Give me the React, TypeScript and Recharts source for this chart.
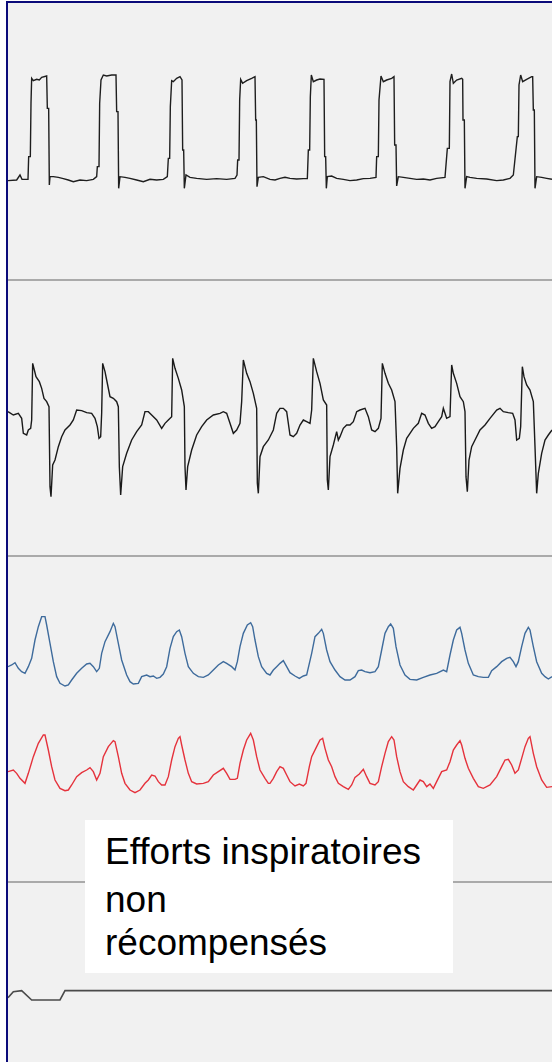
import { LineChart, Line, XAxis, YAxis } from 'recharts';

// time in samples (3 samples per px), amplitudes in arbitrary units
const T_DOMAIN: [number, number] = [24, 1656];

const pulseTrace: [number, number][] = [
  [24, 138], [50, 140], [60, 155], [66, 142], [84, 142], [86, 210], [91, 210], [93, 370], [95, 445],
  [100, 438], [110, 442], [118, 440], [125, 448], [140, 452], [142, 355], [146, 355], [148, 125],
  [150, 150], [160, 150], [175, 148], [190, 144], [205, 140], [220, 135], [240, 140], [260, 138],
  [280, 142], [290, 150], [292, 180], [297, 180], [299, 370], [303, 440], [310, 455], [320, 452],
  [335, 455], [348, 455], [350, 345], [354, 345], [356, 115], [360, 150], [375, 148], [390, 145],
  [410, 140], [430, 135], [450, 142], [470, 140], [490, 142], [502, 150], [505, 205], [509, 205],
  [511, 360], [515, 438], [520, 435], [530, 445], [540, 450], [546, 440], [548, 230], [551, 230],
  [553, 115], [558, 155], [570, 148], [590, 145], [620, 142], [650, 144], [680, 142], [705, 145],
  [711, 155], [713, 200], [717, 200], [719, 380], [722, 442], [728, 430], [740, 438], [755, 445],
  [765, 450], [767, 320], [769, 320], [771, 120], [775, 148], [790, 150], [810, 142], [825, 140],
  [840, 145], [855, 148], [870, 145], [890, 143], [910, 144], [922, 144], [925, 230], [929, 230],
  [931, 390], [934, 455], [940, 435], [950, 440], [960, 443], [972, 442], [974, 210], [977, 210],
  [979, 115], [982, 150], [995, 152], [1010, 145], [1030, 142], [1050, 138], [1070, 140], [1090, 144],
  [1110, 145], [1128, 148], [1130, 210], [1135, 210], [1137, 380], [1143, 452], [1150, 435],
  [1160, 440], [1175, 445], [1182, 450], [1184, 245], [1188, 245], [1190, 122], [1195, 150],
  [1210, 148], [1230, 145], [1250, 142], [1270, 143], [1290, 140], [1310, 145], [1335, 148],
  [1342, 235], [1348, 235], [1350, 435], [1355, 458], [1360, 430], [1370, 440], [1385, 445],
  [1388, 442], [1389, 320], [1393, 320], [1395, 115], [1400, 150], [1410, 148], [1430, 145],
  [1460, 143], [1490, 138], [1510, 140], [1530, 145], [1540, 155], [1552, 270], [1555, 270],
  [1557, 425], [1562, 455], [1568, 435], [1580, 442], [1595, 450], [1598, 450], [1600, 350],
  [1603, 350], [1605, 115], [1610, 150], [1625, 148], [1640, 145], [1656, 142],
];

const pressureTrace: [number, number][] = [
  [24, 285], [40, 275], [55, 280], [65, 265], [70, 220], [80, 215], [85, 230], [92, 235], [95, 260],
  [98, 430], [103, 410], [108, 390], [118, 375], [125, 355], [132, 325], [140, 315], [147, 300],
  [150, 60], [153, 30], [158, 125], [165, 140], [175, 180], [185, 210], [195, 230], [210, 245],
  [220, 260], [230, 290], [245, 288], [260, 282], [275, 280], [285, 265], [292, 240], [297, 205],
  [302, 210], [305, 280], [308, 430], [315, 405], [320, 380], [330, 330], [340, 325], [350, 315],
  [355, 300], [358, 120], [362, 35], [368, 120], [380, 160], [395, 200], [410, 225], [425, 245],
  [435, 285], [445, 285], [455, 275], [470, 260], [485, 235], [495, 250], [505, 260], [515, 270],
  [518, 445], [525, 415], [535, 385], [545, 350], [553, 300], [555, 120], [558, 50], [563, 120],
  [575, 170], [590, 215], [605, 240], [620, 260], [640, 275], [660, 280], [670, 285], [680, 280],
  [690, 250], [700, 220], [710, 230], [720, 250], [725, 315], [730, 440], [740, 400], [750, 375],
  [760, 340], [770, 295], [772, 70], [775, 40], [780, 150], [790, 180], [805, 200], [820, 230],
  [830, 280], [840, 295], [850, 295], [860, 285], [870, 215], [880, 210], [890, 220], [900, 245],
  [910, 260], [920, 255], [930, 250], [935, 290], [940, 445], [950, 405], [960, 370], [970, 320],
  [980, 305], [982, 80], [985, 50], [990, 150], [1000, 185], [1010, 225], [1015, 200], [1020, 210],
  [1030, 235], [1040, 245], [1050, 245], [1060, 255], [1070, 285], [1080, 290], [1095, 295],
  [1105, 270], [1115, 230], [1125, 225], [1135, 235], [1143, 265], [1147, 430], [1155, 400],
  [1165, 370], [1175, 350], [1185, 315], [1190, 180], [1193, 40], [1200, 115], [1210, 170],
  [1220, 205], [1230, 220], [1240, 235], [1255, 250], [1265, 280], [1275, 275], [1285, 250],
  [1295, 235], [1305, 240], [1315, 255], [1325, 270], [1330, 295], [1340, 265], [1350, 270],
  [1355, 425], [1360, 400], [1370, 370], [1380, 330], [1390, 315], [1395, 285], [1398, 90],
  [1402, 45], [1407, 140], [1415, 180], [1425, 200], [1440, 230], [1455, 245], [1470, 265],
  [1490, 290], [1500, 295], [1510, 285], [1525, 282], [1538, 280], [1545, 260], [1550, 200],
  [1558, 205], [1562, 240], [1567, 420], [1572, 390], [1580, 365], [1590, 350], [1600, 315],
  [1605, 180], [1610, 40], [1615, 100], [1625, 160], [1635, 200], [1645, 215], [1656, 230],
];

const blueTrace: [number, number][] = [
  [24, 300], [35, 305], [45, 312], [55, 295], [65, 285], [75, 280], [85, 300], [95, 325], [105, 380],
  [115, 420], [125, 450], [135, 450], [140, 425], [150, 370], [160, 315], [170, 270], [180, 250],
  [195, 242], [205, 245], [215, 260], [230, 280], [245, 295], [260, 308], [270, 310], [280, 300],
  [290, 285], [298, 295], [305, 340], [315, 375], [330, 405], [340, 430], [345, 420], [355, 370],
  [365, 320], [380, 275], [390, 255], [400, 248], [415, 250], [425, 270], [440, 275], [450, 270],
  [460, 272], [470, 265], [480, 268], [490, 278], [500, 300], [510, 355], [520, 390], [530, 405],
  [538, 410], [545, 390], [555, 340], [565, 300], [580, 280], [595, 270], [610, 268], [625, 275],
  [640, 290], [655, 305], [670, 315], [680, 310], [695, 300], [705, 290], [712, 315], [720, 360],
  [730, 400], [742, 425], [752, 432], [758, 420], [765, 380], [775, 330], [785, 300], [800, 280],
  [810, 275], [820, 290], [830, 300], [840, 310], [850, 318], [860, 300], [870, 282], [885, 272],
  [898, 265], [910, 272], [920, 275], [935, 340], [945, 390], [955, 400], [965, 412], [970, 400],
  [980, 350], [990, 315], [1005, 290], [1020, 270], [1035, 260], [1050, 260], [1065, 270],
  [1075, 288], [1085, 290], [1095, 285], [1110, 282], [1125, 285], [1135, 300], [1145, 350],
  [1155, 400], [1165, 420], [1172, 428], [1180, 415], [1188, 360], [1200, 305], [1215, 275],
  [1230, 262], [1250, 260], [1270, 268], [1290, 275], [1310, 280], [1330, 290], [1340, 285],
  [1350, 335], [1360, 380], [1370, 410], [1380, 418], [1385, 400], [1395, 350], [1405, 310],
  [1420, 275], [1435, 270], [1450, 268], [1465, 268], [1475, 288], [1490, 300], [1505, 315],
  [1520, 325], [1530, 328], [1540, 315], [1548, 300], [1555, 315], [1565, 360], [1575, 400],
  [1585, 418], [1590, 410], [1600, 360], [1610, 315], [1625, 280], [1635, 270], [1645, 263],
  [1656, 270],
];

const redTrace: [number, number][] = [
  [24, 345], [40, 350], [50, 340], [60, 325], [75, 310], [85, 340], [100, 390], [115, 430], [130, 455],
  [135, 455], [145, 410], [155, 360], [165, 320], [180, 295], [195, 288], [205, 290], [215, 305],
  [230, 330], [245, 342], [260, 350], [270, 357], [280, 345], [290, 320], [300, 340], [310, 390],
  [325, 420], [340, 438], [345, 435], [355, 390], [365, 340], [375, 310], [390, 290], [405, 282],
  [420, 290], [435, 310], [445, 320], [455, 335], [465, 332], [475, 315], [485, 305], [495, 305],
  [505, 330], [515, 380], [525, 420], [535, 445], [540, 450], [545, 425], [555, 380], [565, 340],
  [575, 315], [590, 308], [610, 310], [625, 315], [640, 335], [655, 345], [670, 355], [680, 340],
  [690, 322], [705, 322], [712, 325], [720, 370], [730, 410], [740, 440], [752, 460], [760, 440],
  [770, 390], [780, 350], [795, 325], [805, 310], [810, 310], [820, 325], [830, 345], [840, 360],
  [850, 355], [860, 335], [870, 315], [885, 302], [898, 308], [910, 302], [918, 310], [928, 360],
  [935, 390], [950, 420], [960, 440], [968, 445], [975, 415], [985, 380], [995, 360], [1005, 330],
  [1015, 310], [1030, 300], [1045, 292], [1055, 305], [1065, 328], [1078, 338], [1090, 352],
  [1100, 330], [1110, 310], [1125, 305], [1135, 315], [1145, 360], [1155, 400], [1165, 435],
  [1175, 450], [1182, 440], [1190, 390], [1200, 345], [1210, 315], [1225, 300], [1240, 290],
  [1250, 305], [1260, 320], [1270, 315], [1280, 300], [1290, 308], [1300, 295], [1310, 315],
  [1325, 345], [1340, 350], [1350, 375], [1360, 410], [1370, 425], [1380, 438], [1385, 425],
  [1395, 385], [1405, 355], [1420, 325], [1435, 300], [1450, 295], [1470, 305], [1490, 330],
  [1505, 360], [1515, 380], [1525, 382], [1535, 365], [1545, 340], [1555, 350], [1565, 385],
  [1575, 420], [1585, 445], [1590, 450], [1600, 400], [1610, 360], [1625, 320], [1640, 298],
  [1656, 300],
];

const effortTrace: [number, number][] = [
  [24, 387], [40, 405], [65, 408], [95, 380], [180, 380], [195, 408], [1656, 408],
];

const LABEL_LINES = ['Efforts inspiratoires', 'non', 'récompensés'];

const toRows = (pts: [number, number][]) => pts.map(([t, v]) => ({ t, v }));

interface TraceProps {
  top: number;
  height: number;
  domain: [number, number];
  points: [number, number][];
  color: string;
  width?: number;
}

function Trace({ top, height, domain, points, color, width = 1.4 }: TraceProps) {
  return (
    <div style={{ position: 'absolute', left: 8, top }}>
      <LineChart width={544} height={height} margin={{ top: 0, right: 0, bottom: 0, left: 0 }}>
        <XAxis dataKey="t" type="number" domain={T_DOMAIN} hide allowDataOverflow />
        <YAxis type="number" domain={domain} hide allowDataOverflow />
        <Line
          data={toRows(points)}
          dataKey="v"
          type="linear"
          stroke={color}
          strokeWidth={width}
          dot={false}
          activeDot={false}
          isAnimationActive={false}
        />
      </LineChart>
    </div>
  );
}

const sep = (top: number) => (
  <div style={{ position: 'absolute', left: 8, top, width: 544, height: 2, background: '#aaaaaa' }} />
);

export default function App() {
  return (
    <div style={{ position: 'absolute', left: 0, top: 0, width: 552, height: 1062, background: '#ffffff', overflow: 'hidden' }}>
      <div
        style={{
          position: 'absolute',
          left: 6,
          top: 1,
          width: 546,
          height: 1061,
          boxSizing: 'border-box',
          borderLeft: '2px solid #0b0b7a',
          borderTop: '2px solid #0b0b7a',
          background: '#f1f1f1',
        }}
      />
      {sep(279)}
      {sep(555)}
      {sep(881)}
      <Trace top={60} height={140} domain={[80, 500]} points={pulseTrace} color="#1e1e1e" />
      <Trace top={340} height={170} domain={[-10, 500]} points={pressureTrace} color="#1a1a1a" />
      <Trace top={600} height={100} domain={[200, 500]} points={blueTrace} color="#3e6b9c" />
      <Trace top={720} height={80} domain={[260, 500]} points={redTrace} color="#e5323c" />
      <Trace top={960} height={102} domain={[194, 500]} points={effortTrace} color="#4a4a4a" width={1.6} />
      <div style={{ position: 'absolute', left: 85, top: 820, width: 368, height: 153, background: '#ffffff' }}>
        {LABEL_LINES.map((line, i) => (
          <div
            key={line}
            style={{
              position: 'absolute',
              left: 20,
              top: [10.7, 58.7, 101.7][i],
              fontFamily: '"Liberation Sans", Arial, sans-serif',
              fontSize: 37,
              lineHeight: '41px',
              color: '#000',
              whiteSpace: 'nowrap',
            }}
          >
            {line}
          </div>
        ))}
      </div>
    </div>
  );
}
